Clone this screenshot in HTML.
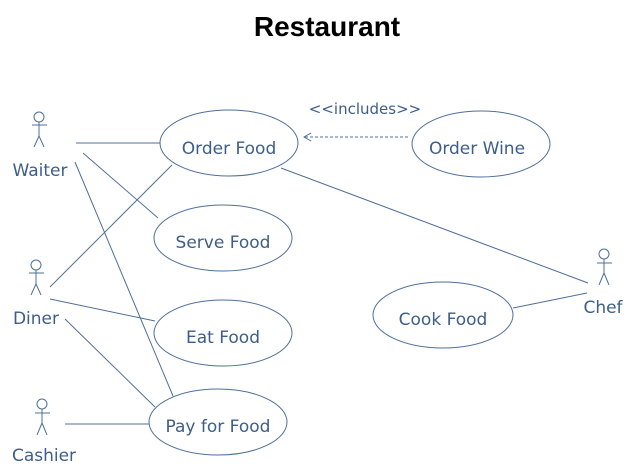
<!DOCTYPE html>
<html><head><meta charset="utf-8"><style>
html,body{margin:0;padding:0;background:#fff;}
svg{display:block;}
.t{font-family:"DejaVu Sans","Liberation Sans",sans-serif;fill:#3d5d8a;font-size:17px;}
</style></head><body>
<svg width="633" height="472" viewBox="0 0 633 472" xmlns="http://www.w3.org/2000/svg">
<text x="327" y="36" text-anchor="middle" font-family="Liberation Sans, sans-serif" font-weight="bold" font-size="28" fill="#000">Restaurant</text>
<g fill="none" stroke="#4f6f9a" stroke-width="1">
<ellipse cx="229" cy="143" rx="69" ry="33"/>
<ellipse cx="223" cy="238" rx="69" ry="33"/>
<ellipse cx="223" cy="333" rx="69" ry="33"/>
<ellipse cx="218" cy="422" rx="69" ry="33"/>
<ellipse cx="481" cy="144" rx="69" ry="33"/>
<ellipse cx="443" cy="315" rx="70" ry="33"/>
<line x1="76" y1="143" x2="160" y2="143"/>
<line x1="83" y1="153" x2="158" y2="218"/>
<line x1="75" y1="162" x2="173" y2="396"/>
<line x1="50" y1="287" x2="172" y2="165"/>
<line x1="50" y1="299" x2="155" y2="321"/>
<line x1="65" y1="319" x2="155" y2="407"/>
<line x1="65" y1="424" x2="149" y2="424"/>
<line x1="281" y1="168" x2="588" y2="283"/>
<line x1="513" y1="308" x2="587" y2="293"/>
<line x1="408" y1="137" x2="305" y2="137" stroke-dasharray="3,2"/>
<polyline points="311,133 304,137 311,141"/>
<!-- actors -->
<g>
<circle cx="39" cy="117" r="5"/><line x1="39" y1="122" x2="39" y2="136"/><line x1="32" y1="125" x2="47" y2="125"/><line x1="39" y1="136" x2="34" y2="147"/><line x1="39" y1="136" x2="44" y2="147"/>
</g>
<g>
<circle cx="36" cy="265" r="5"/><line x1="36" y1="270" x2="36" y2="284"/><line x1="29" y1="273" x2="44" y2="273"/><line x1="36" y1="284" x2="31" y2="295"/><line x1="36" y1="284" x2="41" y2="295"/>
</g>
<g>
<circle cx="42" cy="404" r="5"/><line x1="42" y1="409" x2="42" y2="423"/><line x1="35" y1="413" x2="50" y2="413"/><line x1="42" y1="423" x2="37" y2="435"/><line x1="42" y1="423" x2="47" y2="435"/>
</g>
<g>
<circle cx="604" cy="254" r="5"/><line x1="604" y1="259" x2="604" y2="273"/><line x1="597" y1="263" x2="612" y2="263"/><line x1="604" y1="273" x2="599" y2="285"/><line x1="604" y1="273" x2="609" y2="285"/>
</g>
</g>
<text class="t" x="40" y="176" text-anchor="middle">Waiter</text>
<text class="t" x="36" y="324" text-anchor="middle">Diner</text>
<text class="t" x="44" y="461" text-anchor="middle">Cashier</text>
<text class="t" x="603" y="313" text-anchor="middle">Chef</text>
<text class="t" x="229" y="154" text-anchor="middle">Order Food</text>
<text class="t" x="223" y="248" text-anchor="middle">Serve Food</text>
<text class="t" x="223" y="343" text-anchor="middle">Eat Food</text>
<text class="t" x="218" y="432" text-anchor="middle">Pay for Food</text>
<text class="t" x="477" y="154" text-anchor="middle">Order Wine</text>
<text class="t" x="443" y="325" text-anchor="middle">Cook Food</text>
<text class="t" x="365" y="114" text-anchor="middle" style="font-size:15px">&lt;&lt;includes&gt;&gt;</text>
</svg>
</body></html>
